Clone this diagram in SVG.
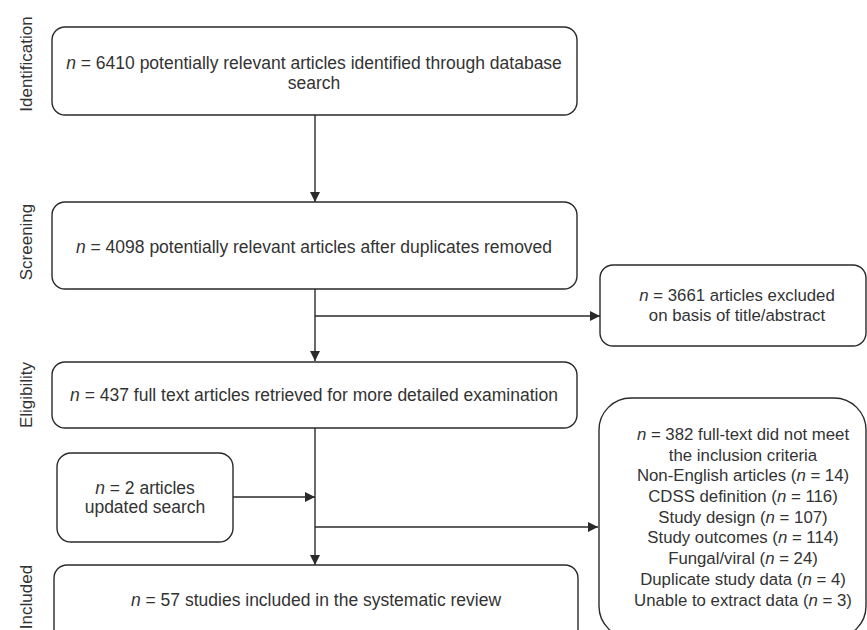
<svg xmlns="http://www.w3.org/2000/svg" width="867" height="630" viewBox="0 0 867 630">
<style>
.box{fill:#fff;stroke:#2a2a2a;stroke-width:1.4}
.t{font-family:"Liberation Sans",Arial,sans-serif;font-size:17.5px;fill:#333;text-anchor:middle}
.r{font-size:16.8px}
.lab{font-family:"Liberation Sans",Arial,sans-serif;font-size:17px;fill:#333;text-anchor:middle}
.c{fill:none;stroke:#2a2a2a;stroke-width:1.4}
.i{font-style:italic}
</style>
<defs>
<marker id="ah" viewBox="0 0 10 10" refX="10" refY="5" markerWidth="10" markerHeight="10" markerUnits="userSpaceOnUse" orient="auto">
<path d="M0,0 L10,5 L0,10 Z" fill="#2a2a2a"/>
</marker>
</defs>
<rect width="867" height="630" fill="#fff"/>
<g id="labels">
<text class="lab" transform="translate(32,64) rotate(-90)">Identification</text>
<text class="lab" transform="translate(32,242) rotate(-90)">Screening</text>
<text class="lab" transform="translate(32,395) rotate(-90)">Eligibility</text>
<text class="lab" transform="translate(32,597) rotate(-90)">Included</text>
</g>
<g id="connectors">
<line class="c" x1="315" y1="115" x2="315" y2="202" marker-end="url(#ah)"/>
<line class="c" x1="315" y1="289" x2="315" y2="361" marker-end="url(#ah)"/>
<line class="c" x1="315" y1="316" x2="600" y2="316" marker-end="url(#ah)"/>
<line class="c" x1="315" y1="428" x2="315" y2="565" marker-end="url(#ah)"/>
<line class="c" x1="233" y1="497" x2="315" y2="497" marker-end="url(#ah)"/>
<line class="c" x1="315" y1="527" x2="598" y2="527" marker-end="url(#ah)"/>
</g>
<g id="n1">
<rect class="box" x="52" y="27" width="525" height="88" rx="13"/>
<text class="t" x="314" y="69"><tspan class="i">n</tspan> = 6410 potentially relevant articles identified through database</text>
<text class="t" x="314" y="89">search</text>
</g>
<g id="n2">
<rect class="box" x="52" y="202" width="525" height="87" rx="13"/>
<text class="t" x="314" y="253"><tspan class="i">n</tspan> = 4098 potentially relevant articles after duplicates removed</text>
</g>
<g id="n3">
<rect class="box" x="600" y="265" width="266" height="81" rx="13"/>
<text class="t r" x="737" y="301"><tspan class="i">n</tspan> = 3661 articles excluded</text>
<text class="t r" x="737" y="321">on basis of title/abstract</text>
</g>
<g id="n4">
<rect class="box" x="52" y="362" width="525" height="66" rx="13"/>
<text class="t" x="314" y="401"><tspan class="i">n</tspan> = 437 full text articles retrieved for more detailed examination</text>
</g>
<g id="n5">
<rect class="box" x="57" y="453" width="176" height="89" rx="14"/>
<text class="t" x="145" y="494"><tspan class="i">n</tspan> = 2 articles</text>
<text class="t" x="145" y="513">updated search</text>
</g>
<g id="n6">
<rect class="box" x="599" y="398" width="267" height="240" rx="32"/>
<text class="t r" x="743" y="440"><tspan class="i">n</tspan> = 382 full-text did not meet</text>
<text class="t r" x="743" y="461">the inclusion criteria</text>
<text class="t r" x="743" y="481">Non-English articles (<tspan class="i">n</tspan> = 14)</text>
<text class="t r" x="743" y="502">CDSS definition (<tspan class="i">n</tspan> = 116)</text>
<text class="t r" x="743" y="523">Study design (<tspan class="i">n</tspan> = 107)</text>
<text class="t r" x="743" y="543">Study outcomes (<tspan class="i">n</tspan> = 114)</text>
<text class="t r" x="743" y="564">Fungal/viral (<tspan class="i">n</tspan> = 24)</text>
<text class="t r" x="743" y="585">Duplicate study data (<tspan class="i">n</tspan> = 4)</text>
<text class="t r" x="743" y="606">Unable to extract data (<tspan class="i">n</tspan> = 3)</text>
</g>
<g id="n7">
<rect class="box" x="54" y="565" width="524" height="85" rx="13"/>
<text class="t" x="316" y="606"><tspan class="i">n</tspan> = 57 studies included in the systematic review</text>
</g>
</svg>
